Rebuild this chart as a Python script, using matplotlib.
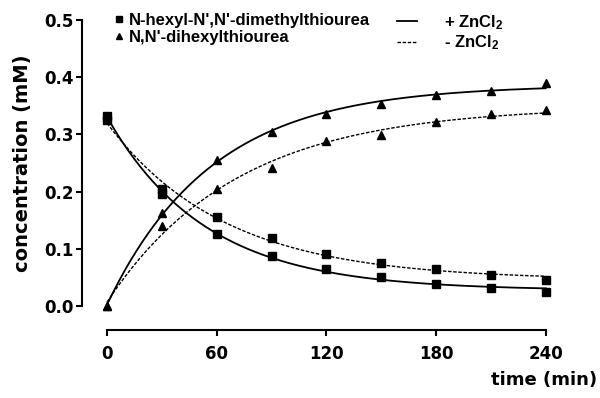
import matplotlib
matplotlib.use("Agg")
import matplotlib.pyplot as plt
from matplotlib.lines import Line2D
import numpy as np

plt.rcParams['font.family'] = ['DejaVu Sans']
plt.rcParams['font.weight'] = 'bold'
plt.rcParams['mathtext.fontset'] = 'custom'
plt.rcParams['mathtext.rm'] = 'Liberation Sans:bold'
plt.rcParams['mathtext.it'] = 'Liberation Sans:bold'
plt.rcParams['mathtext.bf'] = 'Liberation Sans:bold'

# time points (min)
time = np.array([0, 30, 60, 90, 120, 150, 180, 210, 240])

# N-hexyl-N',N'-dimethylthiourea (squares)
mono_zn = np.array([0.333, 0.195, 0.125, 0.088, 0.064, 0.050, 0.038, 0.032, 0.025])
mono_nozn = np.array([0.325, 0.204, 0.156, 0.118, 0.091, 0.075, 0.065, 0.054, 0.045])

# N,N'-dihexylthiourea (triangles)
di_zn = np.array([0.0, 0.163, 0.255, 0.304, 0.335, 0.353, 0.369, 0.376, 0.389])
di_nozn = np.array([0.0, 0.140, 0.204, 0.241, 0.288, 0.299, 0.321, 0.336, 0.343])


def fit_one_phase(t, y):
    # one-phase exponential fit: y = plateau + (y0 - plateau) * exp(-k t)
    best = None
    for k in np.linspace(0.002, 0.1, 2000):
        A = np.column_stack([np.ones_like(t, dtype=float), np.exp(-k * t)])
        coef, res, _, _ = np.linalg.lstsq(A, y, rcond=None)
        err = np.sum((A @ coef - y) ** 2)
        if best is None or err < best[0]:
            best = (err, k, coef)
    _, k, coef = best
    return lambda tt: coef[0] + coef[1] * np.exp(-k * tt)


fig = plt.figure(figsize=(6, 3.98), dpi=100)
ax = fig.add_axes([0.1367, 0.1709, 0.8033, 0.7788])

dash = (0, (2.5, 1.2))
tt = np.linspace(0, 240, 300)
for y, ls, lw in [(mono_zn, '-', 1.3), (di_zn, '-', 1.3),
                  (mono_nozn, dash, 1.0), (di_nozn, dash, 1.0)]:
    f = fit_one_phase(time, y)
    ax.plot(tt, f(tt), color='black', linestyle=ls, lw=lw)

ax.plot(time, mono_zn, 's', color='black', ms=5.5)
ax.plot(time, mono_nozn, 's', color='black', ms=5.5)
ax.plot(time, di_zn, '^', color='black', ms=5.5)
ax.plot(time, di_nozn, '^', color='black', ms=5.5)

ax.set_xlim(-13.7, 250)
ax.set_ylim(-0.042, 0.5)
ax.spines['top'].set_visible(False)
ax.spines['right'].set_visible(False)
ax.spines['left'].set_bounds(0, 0.5)
ax.spines['bottom'].set_bounds(0, 240)
ax.spines['left'].set_linewidth(1.5)
ax.spines['bottom'].set_linewidth(1.5)
ax.set_xticks([0, 60, 120, 180, 240])
ax.set_yticks([0.0, 0.1, 0.2, 0.3, 0.4, 0.5])
ax.set_yticklabels(['0.0', '0.1', '0.2', '0.3', '0.4', '0.5'])
ax.tick_params(direction='out', length=4, width=1.5, labelsize=12)
ax.tick_params(axis='x', pad=7)
ax.tick_params(axis='y', pad=2)
for lab in ax.get_xticklabels() + ax.get_yticklabels():
    lab.set_fontweight('bold')

ax.set_ylabel('concentration (mM)', fontsize=14, fontweight='bold')
ax.yaxis.set_label_coords(-0.104, 0.539)
fig.text(0.995, 0.045, 'time (min)', ha='right', va='center',
         fontsize=13, fontweight='bold')

lfont = {'family': 'Liberation Sans', 'weight': 'bold', 'size': 12}
h1 = [Line2D([], [], marker='s', ls='none', color='black', ms=5),
      Line2D([], [], marker='^', ls='none', color='black', ms=5)]
leg1 = fig.legend(h1, ["N-hexyl-N',N'-dimethylthiourea", "N,N'-dihexylthiourea"],
                  loc='upper left', bbox_to_anchor=(0.168, 1.0), frameon=False,
                  handlelength=0.6, handletextpad=0.3,
                  labelspacing=0.1, borderpad=0.3, prop=lfont)
h2 = [Line2D([], [], ls='-', color='black', lw=1.3),
      Line2D([], [], ls=dash, color='black', lw=1.0)]
leg2 = fig.legend(h2, ['+ ZnCl$_2$', '- ZnCl$_2$'],
                  loc='upper left', bbox_to_anchor=(0.64, 1.0), frameon=False,
                  handlelength=1.2, handletextpad=1.6,
                  labelspacing=0.1, borderpad=0.3, prop=lfont)

fig.savefig('out.png', dpi=100)
